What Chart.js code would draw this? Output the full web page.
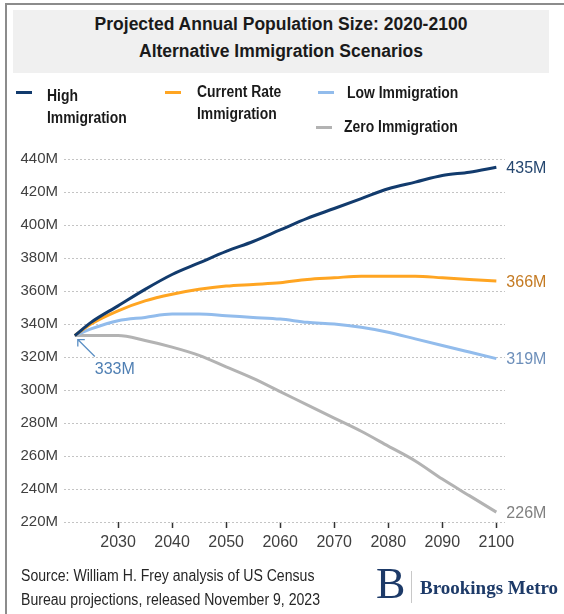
<!DOCTYPE html>
<html>
<head>
<meta charset="utf-8">
<script src="https://cdn.jsdelivr.net/npm/chart.js@4"></script>
<style>
  body { margin: 0; background: #fff; }
  #wrap { position: relative; width: 564px; height: 614px; overflow: hidden; font-family: "Liberation Sans", Arial, sans-serif; }
  #popChart { position: absolute; left: 0; top: 0; }
  .abs { position: absolute; white-space: nowrap; }
  .frameL { left: 5px; top: 3px; width: 2px; height: 611px; background: #8c8c8c; }
  .frameT { left: 5px; top: 3px; width: 559px; height: 2px; background: #8c8c8c; }
  .titleBox { left: 13px; top: 10px; width: 536px; height: 63px; background: #f0f0f0; }
  .title { left: 13px; top: 11px; width: 536px; text-align: center; font-weight: bold; font-size: 17.5px; line-height: 27px; color: #1a1a1a; }
  /* вузький шрифт недоступний, тому стискаємо по горизонталі */
  .leg { font-weight: bold; font-size: 16px; line-height: 22px; color: #1a1a1a; transform: scaleX(0.87); transform-origin: left top; }
  .mk { height: 3px; width: 16px; }
  .src { font-size: 16px; line-height: 24px; color: #262626; transform: scaleX(0.88); transform-origin: left top; }
  .serif { font-family: "Liberation Serif", "DejaVu Serif", serif; color: #1d3a68; }
</style>
</head>
<body>
<div id="wrap">
  <canvas id="popChart" width="564" height="614"></canvas>
  <div class="abs frameL"></div>
  <div class="abs frameT"></div>
  <div class="abs titleBox"></div>
  <div class="abs title">Projected Annual Population Size: 2020-2100<br>Alternative Immigration Scenarios</div>

  <div class="abs mk" style="left:16px; top:91px; background:#123b6d;"></div>
  <div class="abs leg" style="left:47px; top:85px;">High<br>Immigration</div>
  <div class="abs mk" style="left:165px; top:91px; background:#ffa522;"></div>
  <div class="abs leg" style="left:197px; top:81px;">Current Rate<br>Immigration</div>
  <div class="abs mk" style="left:318px; top:91px; background:#92bcec;"></div>
  <div class="abs leg" style="left:347px; top:82px;">Low Immigration</div>
  <div class="abs mk" style="left:316px; top:126px; background:#b3b3b3;"></div>
  <div class="abs leg" style="left:344px; top:116px;">Zero Immigration</div>

  <div class="abs src" style="left:21px; top:564px;">Source: William H. Frey analysis of US Census<br>Bureau projections, released November 9, 2023</div>
  <div class="abs serif" style="left:376px; top:562px; font-size:44px; line-height:44px;">B</div>
  <div class="abs" style="left:411px; top:571px; width:1px; height:32px; background:#c8c8c8;"></div>
  <div class="abs serif" style="left:420px; top:577px; font-size:19px; font-weight:bold; line-height:22px;">Brookings Metro</div>
</div>

<script>
// Роки та значення (млн осіб)
var years = [2022, 2025, 2030, 2035, 2040, 2045, 2050, 2055, 2060, 2065, 2070, 2075, 2080, 2085, 2090, 2095, 2100];
var highImm    = [333, 341, 351, 361, 370, 377, 384, 390, 397, 404, 410, 416, 422, 426, 430, 432, 435];
var currentImm = [333, 340, 348, 354, 358, 361, 363, 364, 365, 367, 368, 369, 369, 369, 368, 367, 366];
var lowImm     = [333, 337, 342, 344, 346, 346, 345, 344, 343, 341, 340, 338, 335, 331, 327, 323, 319];
var zeroImm    = [333, 333, 333, 330, 326, 321, 314, 307, 299, 291, 283, 275, 266, 257, 246, 236, 226];

var seriesNames = ['High Immigration', 'Current Rate Immigration', 'Low Immigration', 'Zero Immigration'];
var lineColors  = ['#123b6d', '#ffa522', '#92bcec', '#b3b3b3'];
var labelColors = ['#24466f', '#c47a22', '#6d8fba', '#808080'];

var xTicks = [2030, 2040, 2050, 2060, 2070, 2080, 2090, 2100];
var yMin = 220, yMax = 440, yStep = 20;

var FONT = '"Liberation Sans", Arial, sans-serif';

function toPoints(vals) {
  return years.map(function(y, i) { return { x: y, y: vals[i] }; });
}

var datasets = [highImm, currentImm, lowImm, zeroImm].map(function(vals, i) {
  return {
    label: seriesNames[i],
    data: toPoints(vals),
    borderColor: lineColors[i],
    borderWidth: 3,
    pointRadius: 0,
    fill: false,
    cubicInterpolationMode: 'monotone'
  };
});

// Підписи в кінці ліній та стрілка до початкового значення
var endLabels = {
  id: 'endLabels',
  afterDatasetsDraw: function(chart) {
    var ctx = chart.ctx;
    ctx.save();
    ctx.font = '16px ' + FONT;
    ctx.textBaseline = 'middle';
    ctx.textAlign = 'left';
    chart.data.datasets.forEach(function(ds, i) {
      var pts = chart.getDatasetMeta(i).data;
      var last = pts[pts.length - 1];
      ctx.fillStyle = labelColors[i];
      ctx.fillText(ds.data[ds.data.length - 1].y + 'M', last.x + 10, last.y + 1);
    });

    var p0 = chart.getDatasetMeta(0).data[0];
    var start = chart.data.datasets[0].data[0].y;
    ctx.strokeStyle = '#5b8fc4';
    ctx.lineWidth = 1.3;
    ctx.beginPath();
    ctx.moveTo(p0.x + 20, p0.y + 21);
    ctx.lineTo(p0.x + 3, p0.y + 4);
    ctx.moveTo(p0.x + 3, p0.y + 11);
    ctx.lineTo(p0.x + 3, p0.y + 4);
    ctx.lineTo(p0.x + 10, p0.y + 4);
    ctx.stroke();
    ctx.fillStyle = '#4f7fb3';
    ctx.fillText(start + 'M', p0.x + 20, p0.y + 34);
    ctx.restore();
  }
};

var ctx = document.getElementById('popChart').getContext('2d');

var popChart = new Chart(ctx, {
  type: 'line',
  data: { datasets: datasets },
  options: {
    responsive: false,
    animation: false,
    layout: { padding: { top: 159, right: 59, left: 0, bottom: 0 } },
    plugins: {
      legend: { display: false },
      title: { display: false },
      tooltip: { enabled: false }
    },
    scales: {
      x: {
        type: 'linear',
        min: 2020,
        max: 2101.6,
        afterFit: function(s) { s.height = 92; },
        afterBuildTicks: function(s) {
          s.ticks = xTicks.map(function(v) { return { value: v }; });
        },
        ticks: {
          autoSkip: false,
          maxRotation: 0,
          padding: 5,
          color: '#404040',
          font: { family: FONT, size: 16 },
          callback: function(v) { return String(v); }
        },
        grid: { drawOnChartArea: false, drawTicks: true, tickLength: 6, tickColor: '#333', tickWidth: 1.5 },
        border: { display: false }
      },
      y: {
        min: yMin,
        max: yMax,
        afterFit: function(s) { s.width = 64; },
        ticks: {
          stepSize: yStep,
          padding: 6,
          color: '#404040',
          font: { family: FONT, size: 15 },
          callback: function(v) { return v + 'M'; }
        },
        grid: { color: '#c4c4c4', lineWidth: 1, drawTicks: false },
        border: { display: false, dash: [2, 2] }
      }
    }
  },
  plugins: [endLabels]
});
</script>
</body>
</html>
